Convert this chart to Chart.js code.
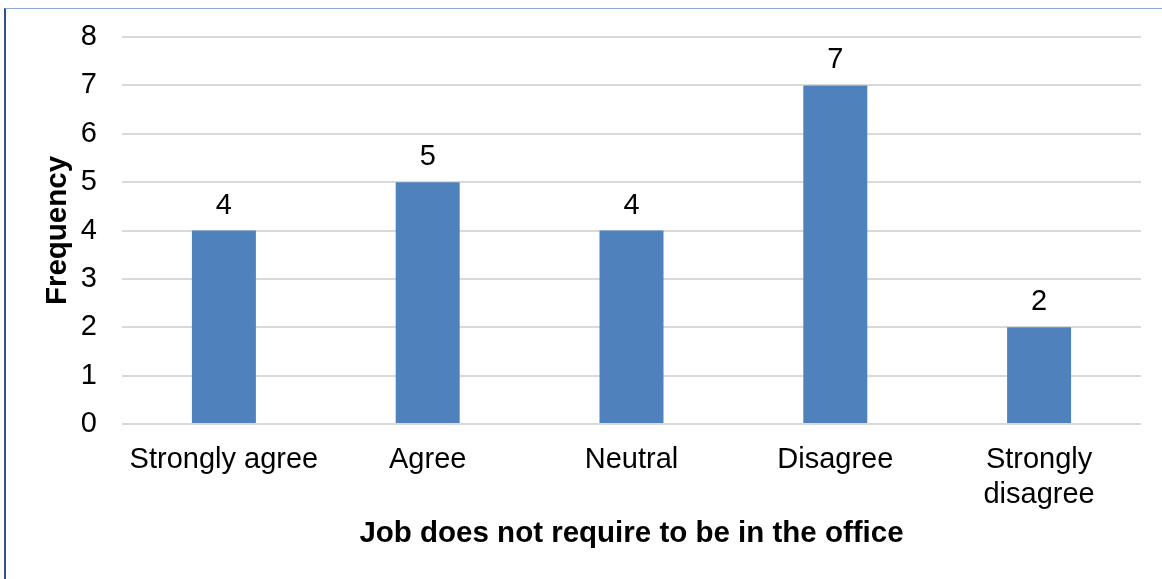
<!DOCTYPE html>
<html>
<head>
<meta charset="utf-8">
<script src="https://cdn.jsdelivr.net/npm/chart.js@4.4.1/dist/chart.umd.min.js"></script>
<style>
  html, body { margin: 0; padding: 0; background: #fff; }
  #wrap { position: relative; width: 1162px; height: 579px; overflow: hidden; }
  #frame {
    position: absolute; left: 4px; top: 8px; right: -2px; bottom: -2px;
    border-left: 2px solid #2F528F; border-top: 1px solid #8FAADC;
    pointer-events: none;
  }
</style>
</head>
<body>
<div id="wrap">
  <canvas id="myChartJob" width="1162" height="579"></canvas>
  <div id="frame"></div>
</div>
<script>
const categories = ['Strongly agree', 'Agree', 'Neutral', 'Disagree', ['Strongly', 'disagree']];
const frequency = [4, 5, 4, 7, 2];
const yTicks = [0, 1, 2, 3, 4, 5, 6, 7, 8];

const FONT = "'Liberation Sans', Arial, sans-serif";

// draws the value above each bar
const barValues = {
    id: 'barValues',
    afterDatasetsDraw(chart) {
        const ctx = chart.ctx;
        ctx.save();
        ctx.font = '29px ' + FONT;
        ctx.fillStyle = '#000';
        ctx.textAlign = 'center';
        ctx.textBaseline = 'alphabetic';
        chart.getDatasetMeta(0).data.forEach((bar, i) => {
            ctx.fillText(String(frequency[i]), bar.x, bar.y - 17);
        });
        ctx.restore();
    }
};

const ctx = document.getElementById('myChartJob');
const myChartJob = new Chart(ctx, {
    type: 'bar',
    data: {
        labels: categories,
        datasets: [{
            label: 'Frequency',
            data: frequency,
            backgroundColor: '#4F81BD',
            borderWidth: 0,
            categoryPercentage: 1,
            barPercentage: 0.314
        }]
    },
    options: {
        responsive: false,
        animation: false,
        layout: { padding: { left: 0, right: 21, top: 37, bottom: 0 } },
        plugins: {
            legend: { display: false },
            tooltip: { enabled: false }
        },
        scales: {
            x: {
                grid: { display: false },
                border: { display: false },
                ticks: {
                    color: '#000',
                    font: { family: FONT, size: 29 },
                    padding: 11,
                    maxRotation: 0,
                    autoSkip: false
                },
                title: {
                    display: true,
                    text: 'Job does not require to be in the office',
                    color: '#000',
                    font: { family: FONT, size: 29.5, weight: 'bold' },
                    padding: { top: 0, bottom: 27 }
                },
                afterFit(scale) { scale.height = 155; }
            },
            y: {
                min: 0,
                max: 8,
                afterBuildTicks(scale) { scale.ticks = yTicks.map(v => ({ value: v })); },
                grid: { color: '#D9D9D9', lineWidth: 2, drawTicks: false },
                border: { display: false },
                ticks: {
                    color: '#000',
                    font: { family: FONT, size: 29 },
                    padding: 25
                },
                title: {
                    display: true,
                    text: 'Frequency',
                    color: '#000',
                    font: { family: FONT, size: 29.5, weight: 'bold' },
                    padding: { top: 40, bottom: 0 }
                },
                afterFit(scale) {
                    scale.width = 122;
                    scale.paddingTop = 0;
                    scale.paddingBottom = 0;
                }
            }
        }
    },
    plugins: [barValues]
});
</script>
</body>
</html>
